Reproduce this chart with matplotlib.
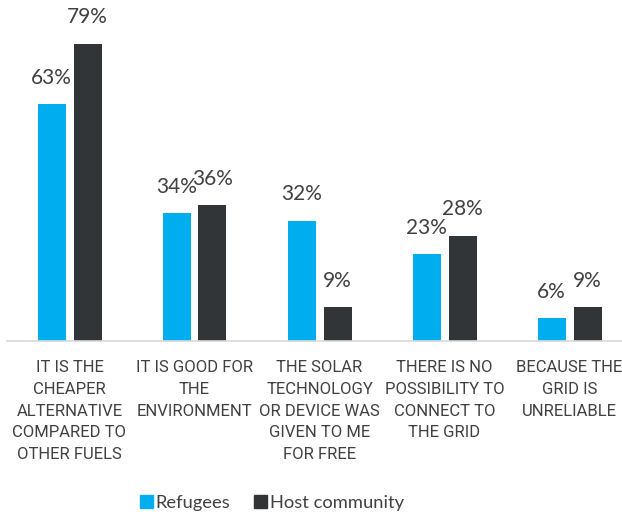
import numpy as np
import matplotlib.pyplot as plt
from matplotlib.patches import Patch

plt.rcParams['font.family'] = ['Lato', 'DejaVu Sans']

# reasons for using solar, share of respondents (%)
reasons = [
    "IT IS THE\nCHEAPER\nALTERNATIVE\nCOMPARED TO\nOTHER FUELS",
    "IT IS GOOD FOR\nTHE\nENVIRONMENT",
    "THE SOLAR\nTECHNOLOGY\nOR DEVICE WAS\nGIVEN TO ME\nFOR FREE",
    "THERE IS NO\nPOSSIBILITY TO\nCONNECT TO\nTHE GRID",
    "BECAUSE THE\nGRID IS\nUNRELIABLE",
]
refugees = [63, 34, 32, 23, 6]
host = [79, 36, 9, 28, 9]

blue = "#00aeef"
dark = "#323537"
txt = "#404040"

fig = plt.figure(figsize=(6.22, 5.15), dpi=100)
ax = fig.add_axes([7/622, 1 - 341/515, 615/622, 320/515])

x = np.arange(len(reasons))
w = 0.224
off = 0.144
b1 = ax.bar(x - off, refugees, w, color=blue)
b2 = ax.bar(x + off, host, w, color=dark)

for bars, vals in ((b1, refugees), (b2, host)):
    for b, v in zip(bars, vals):
        ax.text(b.get_x() + b.get_width()/2, v + 4.3, f"{v}%",
                ha="center", va="bottom", fontsize=15, color=txt)

ax.set_xlim(-0.5, -0.5 + 615/125)
ax.set_ylim(0, 85)
ax.set_yticks([])
ax.set_xticks(x)
ax.set_xticklabels(reasons, fontsize=12, color=txt, linespacing=1.55, va="top",
                   family=['Roboto', 'Lato'])
ax.tick_params(axis="x", length=0, pad=14)
for s in ("top", "right", "left"):
    ax.spines[s].set_visible(False)
ax.spines["bottom"].set_color("#d9d9d9")
ax.spines["bottom"].set_linewidth(1.2)

handles = [Patch(color=blue, label="Refugees"), Patch(color=dark, label="Host community")]
fig.legend(handles=handles, loc="center", bbox_to_anchor=(272/622, 1 - 503/515),
           ncol=2, frameon=False, fontsize=13.2, handlelength=0.72, handleheight=0.72,
           handletextpad=0.15, columnspacing=1.3, labelcolor=txt)

fig.savefig("out.png", dpi=100)
